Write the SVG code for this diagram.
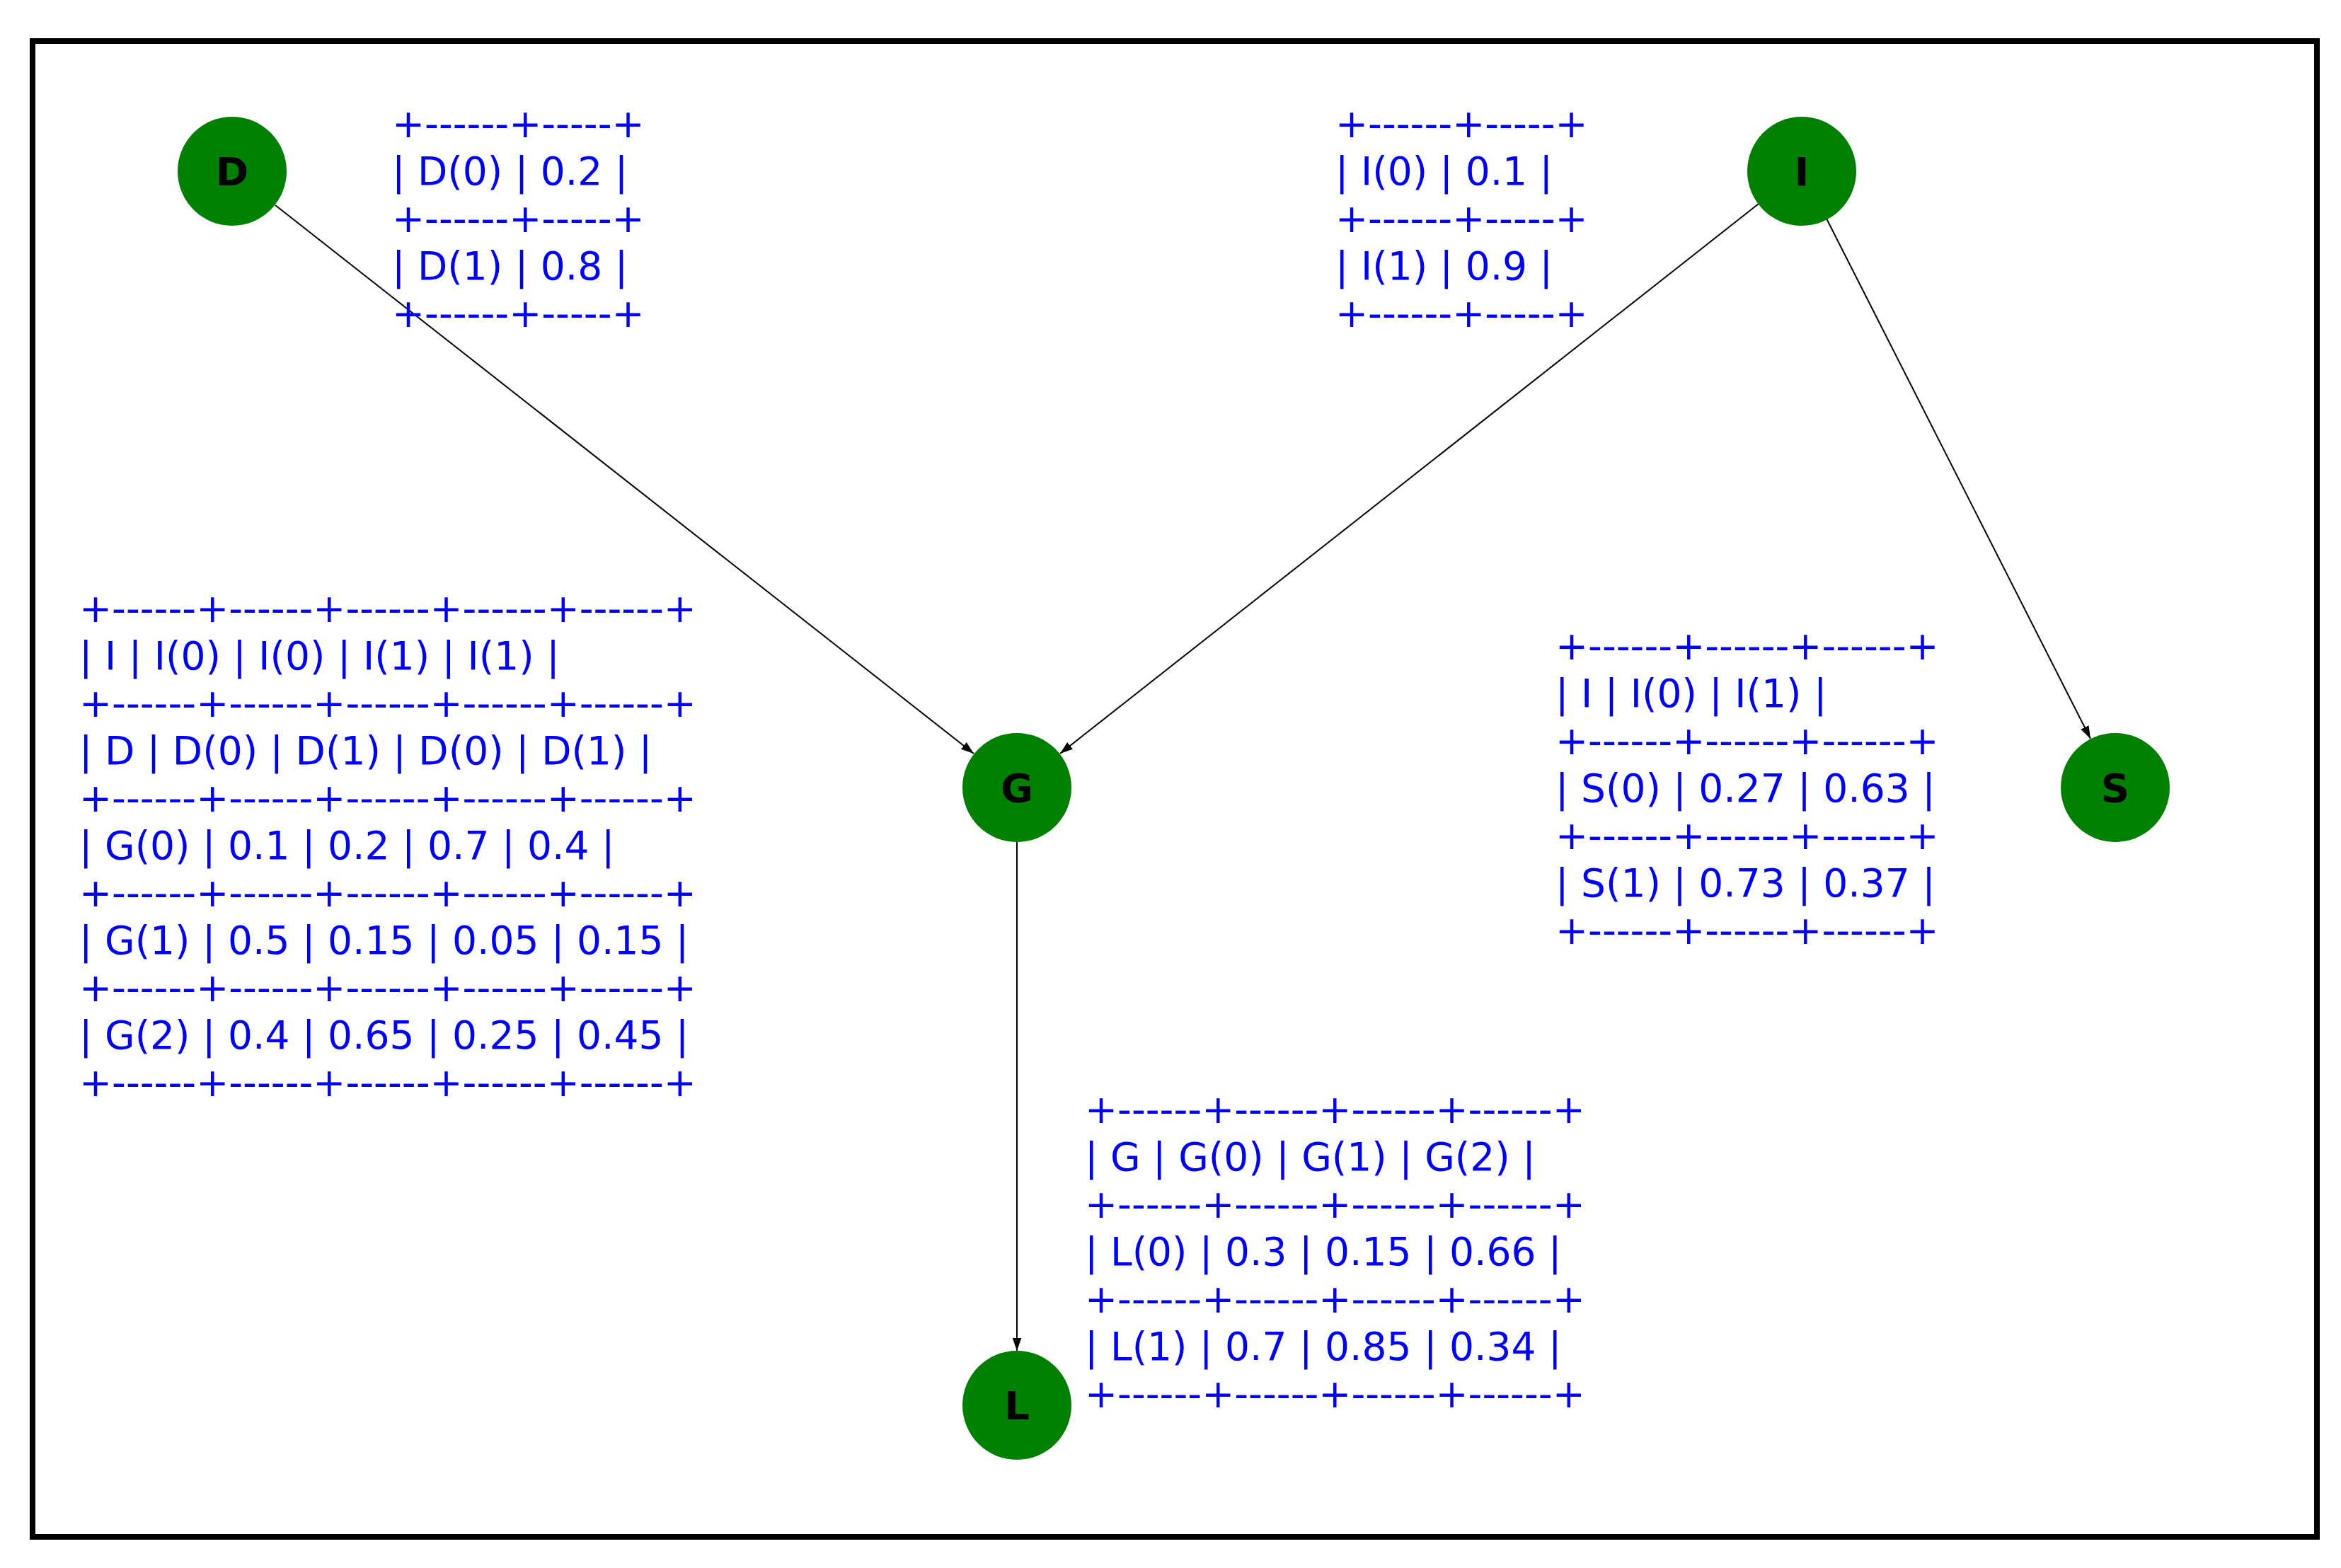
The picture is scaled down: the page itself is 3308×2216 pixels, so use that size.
<svg xmlns="http://www.w3.org/2000/svg" width="3308" height="2216" viewBox="0 0 3308 2216">
<style>
.n{fill:#008000}
.nl{font-family:"DejaVu Sans",sans-serif;font-weight:bold;font-size:56px;fill:#000;text-anchor:middle}
.t{font-family:"DejaVu Sans",sans-serif;font-size:55px;fill:#0000ff;white-space:pre}
.e{stroke:#000;stroke-width:2;fill:none;marker-end:url(#a)}
</style>
<defs>
<marker id="a" viewBox="0 0 10 10" refX="10" refY="5" markerWidth="9" markerHeight="9" orient="auto" markerUnits="strokeWidth">
<path d="M0,1.5 L10,5 L0,8.5 z" fill="#000"/>
</marker>
</defs>
<rect x="0" y="0" width="3308" height="2216" fill="#fff"/>
<rect x="46" y="58" width="3228" height="2114" fill="none" stroke="#000" stroke-width="8"/>
<g id="edges">
<line class="e" x1="389" y1="290" x2="1376" y2="1065"/>
<line class="e" x1="2485" y1="288" x2="1498" y2="1065"/>
<line class="e" x1="2581" y1="309" x2="2954" y2="1044"/>
<line class="e" x1="1437" y1="1190" x2="1437" y2="1909"/>
</g>
<g id="node-D"><circle class="n" cx="328" cy="242" r="77"/><text class="nl" x="328" y="262">D</text></g>
<g id="node-I"><circle class="n" cx="2546" cy="242" r="77"/><text class="nl" x="2546" y="262">I</text></g>
<g id="node-G"><circle class="n" cx="1437" cy="1113" r="77"/><text class="nl" x="1437" y="1133">G</text></g>
<g id="node-S"><circle class="n" cx="2989" cy="1113" r="77"/><text class="nl" x="2989" y="1133">S</text></g>
<g id="node-L"><circle class="n" cx="1437" cy="1986" r="77"/><text class="nl" x="1437" y="2006">L</text></g>
<g id="table-D" class="t">
<text x="554" y="194">+------+-----+</text>
<text x="554" y="261">| D(0) | 0.2 |</text>
<text x="554" y="328">+------+-----+</text>
<text x="554" y="395">| D(1) | 0.8 |</text>
<text x="554" y="462">+------+-----+</text>
</g>
<g id="table-I" class="t">
<text x="1887" y="194">+------+-----+</text>
<text x="1887" y="261">| I(0) | 0.1 |</text>
<text x="1887" y="328">+------+-----+</text>
<text x="1887" y="395">| I(1) | 0.9 |</text>
<text x="1887" y="462">+------+-----+</text>
</g>
<g id="table-G" class="t">
<text x="112" y="879">+------+------+------+------+------+</text>
<text x="112" y="946">| I    | I(0) | I(0) | I(1) | I(1) |</text>
<text x="112" y="1013">+------+------+------+------+------+</text>
<text x="112" y="1080">| D    | D(0) | D(1) | D(0) | D(1) |</text>
<text x="112" y="1147">+------+------+------+------+------+</text>
<text x="112" y="1214">| G(0) | 0.1  | 0.2  | 0.7  | 0.4  |</text>
<text x="112" y="1281">+------+------+------+------+------+</text>
<text x="112" y="1348">| G(1) | 0.5  | 0.15 | 0.05 | 0.15 |</text>
<text x="112" y="1415">+------+------+------+------+------+</text>
<text x="112" y="1482">| G(2) | 0.4  | 0.65 | 0.25 | 0.45 |</text>
<text x="112" y="1549">+------+------+------+------+------+</text>
</g>
<g id="table-S" class="t">
<text x="2198" y="932">+------+------+------+</text>
<text x="2198" y="999">| I    | I(0) | I(1) |</text>
<text x="2198" y="1066">+------+------+------+</text>
<text x="2198" y="1133">| S(0) | 0.27 | 0.63 |</text>
<text x="2198" y="1200">+------+------+------+</text>
<text x="2198" y="1267">| S(1) | 0.73 | 0.37 |</text>
<text x="2198" y="1334">+------+------+------+</text>
</g>
<g id="table-L" class="t">
<text x="1533" y="1587">+------+------+------+------+</text>
<text x="1533" y="1654">| G    | G(0) | G(1) | G(2) |</text>
<text x="1533" y="1721">+------+------+------+------+</text>
<text x="1533" y="1788">| L(0) | 0.3  | 0.15 | 0.66 |</text>
<text x="1533" y="1855">+------+------+------+------+</text>
<text x="1533" y="1922">| L(1) | 0.7  | 0.85 | 0.34 |</text>
<text x="1533" y="1989">+------+------+------+------+</text>
</g>
</svg>
